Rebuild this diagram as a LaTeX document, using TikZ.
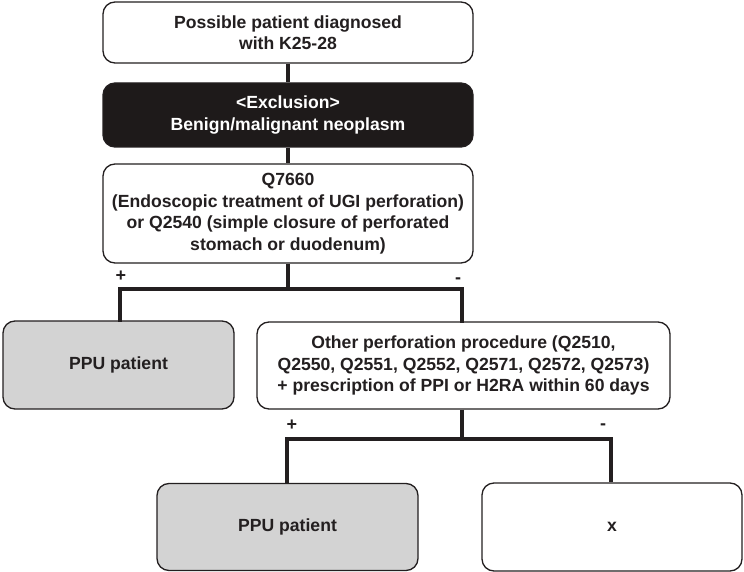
\documentclass[tikz,border=0pt]{standalone}
\usepackage{fontspec}
\setmainfont{Liberation Sans}
\definecolor{ink}{RGB}{35,31,32}
\definecolor{boxgray}{RGB}{211,211,211}
\definecolor{darkfill}{RGB}{30,26,26}
\begin{document}
\begin{tikzpicture}[x=1pt,y=-1pt,
  box/.style={draw=ink, line width=1.3pt, rounded corners=12pt, align=center,
    inner sep=0pt, font=\bfseries\fontsize{17.6}{21.5}\selectfont, text=ink},
  whitebox/.style={box, fill=white},
  graybox/.style={box, fill=boxgray},
  blackbox/.style={box, fill=darkfill, text=white},
  conn/.style={draw=ink, line width=3.2pt},
  sign/.style={inner sep=0pt, font=\bfseries\fontsize{18}{20}\selectfont, text=ink}]
\useasboundingbox (0,0) rectangle (744,572);

\node[whitebox, minimum width=370pt, minimum height=61pt] (b1) at (288,32.5)
  {Possible patient diagnosed\\with K25-28};
\node[blackbox, minimum width=370pt, minimum height=64pt] (b2) at (288,115)
  {<Exclusion>\\Benign/malignant neoplasm};
\node[whitebox, minimum width=370pt, minimum height=99pt] (b3) at (288,213.5)
  {Q7660\\(Endoscopic treatment of UGI perforation)\\or Q2540 (simple closure of perforated\\stomach or duodenum)};
\node[graybox, minimum width=231pt, minimum height=88pt] (ppu1) at (118.5,365)
  {PPU patient};
\node[whitebox, minimum width=413pt, minimum height=87pt] (mid) at (463.5,365.5)
  {Other perforation procedure (Q2510,\\Q2550, Q2551, Q2552, Q2571, Q2572, Q2573)\\+ prescription of PPI or H2RA within 60 days};
\node[graybox, minimum width=261pt, minimum height=87pt] (ppu2) at (287.5,527)
  {PPU patient};
\node[whitebox, minimum width=260pt, minimum height=88pt] (xb) at (612,527)
  {x};

\coordinate (j1) at (288,289);
\coordinate (j1l) at (120,289);
\coordinate (j1r) at (462,289);
\coordinate (j2) at (462,439);
\coordinate (j2l) at (287,439);
\coordinate (j2r) at (611,439);

\draw[conn] (b1.south) -- (b2.north);
\draw[conn] (b2.south) -- (b3.north);
\draw[conn] (b3.south) -- (j1);
\draw[conn, line cap=rect] (j1l |- ppu1.north) -- (j1l) -- (j1r) -- (j1r |- mid.north);
\draw[conn] (j2 |- mid.south) -- (j2);
\draw[conn] (j2l |- ppu2.north) -- (j2l) -- (j2r) -- (j2r |- xb.north);

\node[sign] (p1) at (121,276) {+};
\node[sign] (m1) at (458,281) {-};
\node[sign] (p2) at (292,425) {+};
\node[sign] (m2) at (603,427) {-};
\end{tikzpicture}
\end{document}
